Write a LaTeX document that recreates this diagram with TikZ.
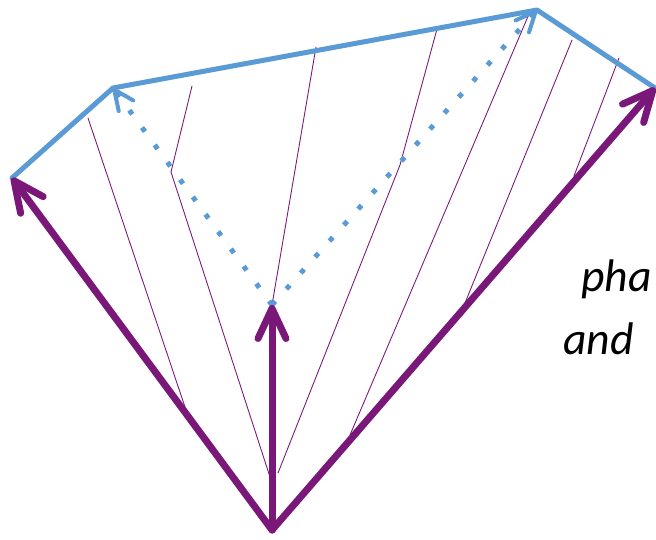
\documentclass[tikz,border=0pt]{standalone}
\usepackage{fontspec}
\setsansfont{Carlito}
\usepackage{tikz}
\usetikzlibrary{arrows.meta}

\definecolor{vecpurple}{RGB}{122,24,122}
\definecolor{edgeblue}{RGB}{91,155,213}

\begin{document}
\begin{tikzpicture}[
    x=0.02cm,
    y=-0.02cm,
    line cap=round,
    line join=round,
    vec/.style={
        vecpurple,
        line width=0.14cm,
        -{Straight Barb[round,length=0.6cm,width=0.56cm]}
    },
    edge/.style={
        edgeblue,
        line width=0.1cm
    },
    dotvec/.style={
        edgeblue,
        line width=0.1cm,
        line cap=butt,
        dash pattern=on 0.1cm off 0.33cm,
        -{Straight Barb[round,length=0.4cm,width=0.36cm,line width=0.08cm]}
    },
    ray/.style={
        vecpurple,
        line width=0.5pt
    },
    label/.style={
        font=\sffamily\itshape\fontsize{26}{30}\selectfont,
        anchor=base west,
        inner sep=0pt
    }
]

\useasboundingbox (0,0) rectangle (656,540);

% Punkte
\coordinate (o) at (272,530);
\coordinate (l) at (12,178);
\coordinate (m) at (272,305);
\coordinate (r) at (655,88);
\coordinate (lt) at (113,88);
\coordinate (rt) at (537,10);

% thin lines
\draw[ray] (88,118) -- (185,407);
\draw[ray] (192,86) -- (171,172) -- (270,477);
\draw[ray] (316,47) -- (m);
\draw[ray] (437,29) -- (400,165) -- (278,473);
\draw[ray] (529,14) -- (350,435);
\draw[ray] (572,40) -- (465,303);
\draw[ray] (619,58) -- (574,176);

% blue edge
\draw[edge] (l) -- (lt) -- (rt) -- (r);

% dotted arrows
\draw[dotvec] (m) -- (lt);
\draw[dotvec] (m) -- (rt);

% purple arrows
\draw[vec] (o) -- (l);
\draw[vec] (o) -- (m);
\draw[vec] (o) -- (r);

% text
\node[label] (pha) at (581,292)
    {pha};
\node[label] (and) at (563,355)
    {and};

\end{tikzpicture}
\end{document}
